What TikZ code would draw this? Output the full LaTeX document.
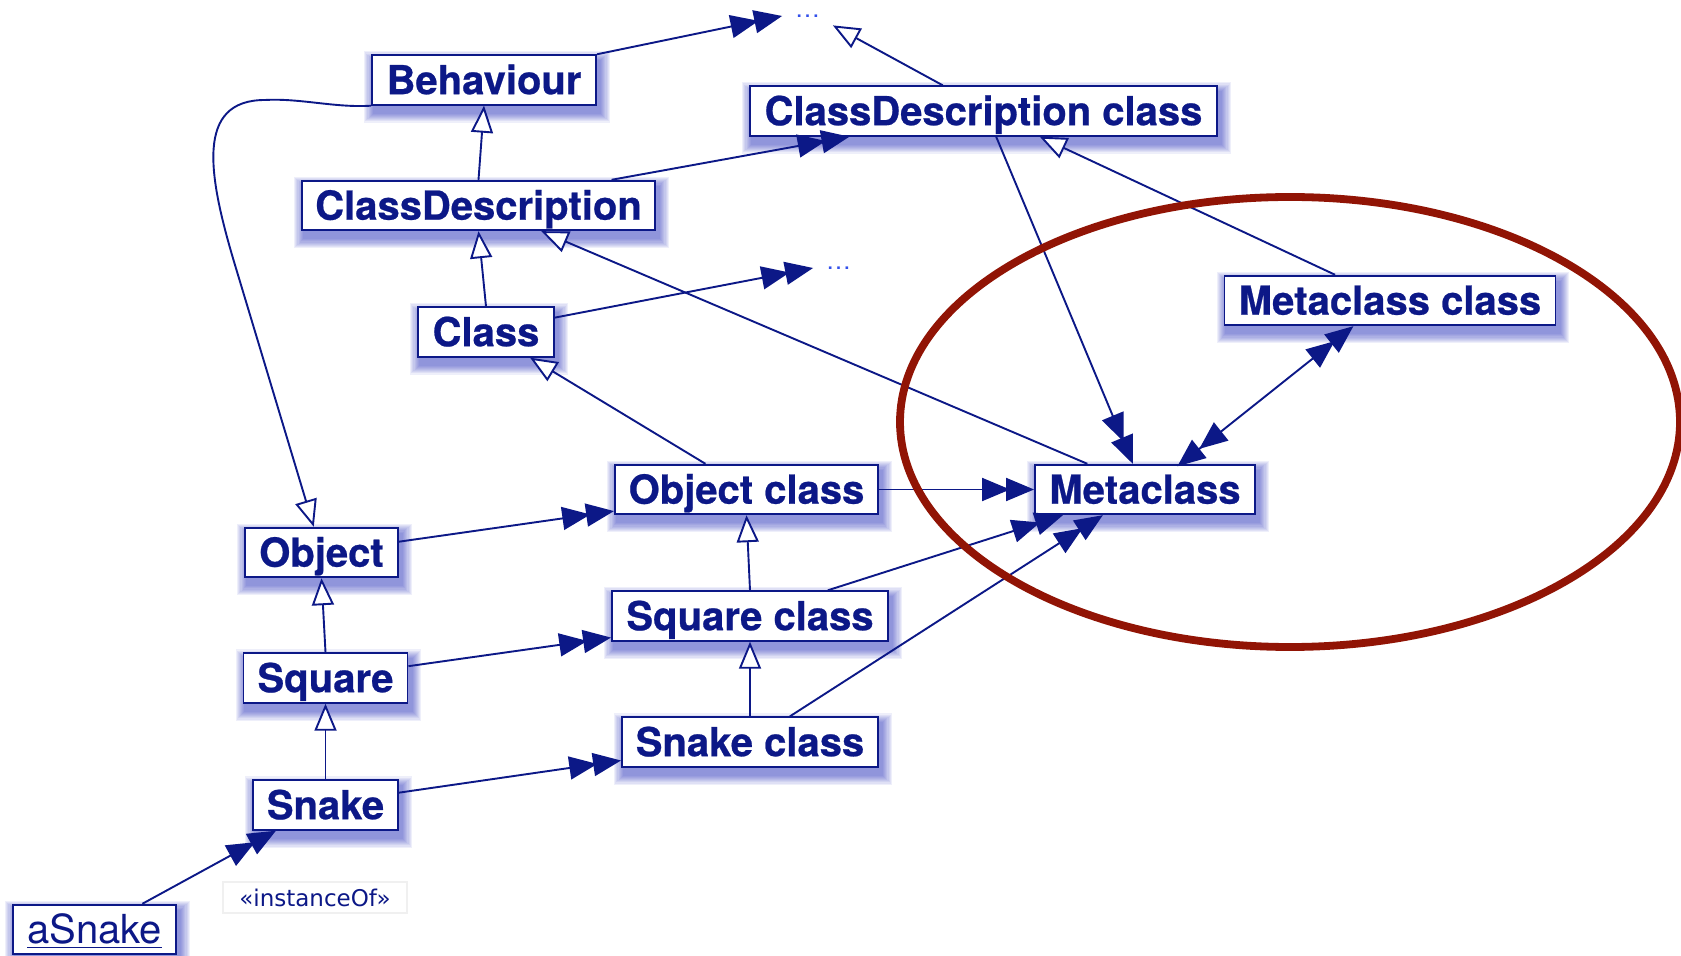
\documentclass[tikz,border=0pt]{standalone}
\usepackage{fontspec}
\setmainfont{TeX Gyre Heros}[BoldFeatures={FakeBold=0.6}]
\newfontfamily\stereofont{DejaVu Sans}
\usetikzlibrary{arrows.meta,calc,backgrounds}

\definecolor{navy}{RGB}{12,24,135}
\definecolor{dotblue}{RGB}{50,80,235}
\definecolor{glowblue}{RGB}{40,50,190}
\definecolor{ringred}{RGB}{145,20,5}

% soft blue glow under a box: stacked translucent rectangles
\newcommand\boxglow[1]{%
  \foreach \k in {1,...,9}{%
    \fill[glowblue, opacity=0.075]
      ([shift={({1.5pt-\k*0.55pt},{-3.5pt-\k*0.55pt})}]#1.south west)
      rectangle ([shift={({1.5pt+\k*0.55pt},{-3.5pt+\k*0.55pt})}]#1.north east);
  }}

\tikzset{
  classbox/.style={draw=navy, line width=0.95pt, fill=white, text=navy,
    font=\bfseries\fontsize{20}{24}\selectfont,
    minimum height=24.75pt, inner xsep=2pt, inner ysep=0pt,
    text height=17.2pt, text depth=3pt},
  objbox/.style={classbox, font=\fontsize{20}{24}\selectfont},
  ellipsis/.style={text=dotblue, font=\fontsize{12.5}{15}\selectfont,
    inner sep=0pt, minimum width=25pt, minimum height=6pt},
  stereo/.style={draw=gray!12, line width=0.6pt, text=navy,
    font=\stereofont\fontsize{11.5}{14}\selectfont,
    minimum width=92pt, minimum height=15.5pt, inner sep=0pt},
  link/.style={draw=navy, line width=0.95pt},
  instof/.style={link,
    -{Triangle[length=14pt,width=11.5pt,sep=-2pt]Triangle[length=14pt,width=11.5pt]}},
  mutual/.style={link,
    {Triangle[length=14pt,width=11.5pt,sep=-2pt]Triangle[length=14pt,width=11.5pt]}-{Triangle[length=14pt,width=11.5pt,sep=-2pt]Triangle[length=14pt,width=11.5pt]}},
  inherits/.style={link, -{Triangle[open,fill=white,length=13.5pt,width=11pt]}},
}

\begin{document}
\begin{tikzpicture}[x=0.5pt, y=-0.5pt]
\useasboundingbox (0,0) rectangle (1681,956);

% classes and metaclasses
\node[classbox, minimum width=112pt]   (behaviour) at (484,80)      {Behaviour};
\node[classbox, minimum width=233.5pt] (cdclass)   at (983.5,111)   {ClassDescription class};
\node[classbox, minimum width=176.5pt] (cd)        at (478.5,205.5) {ClassDescription};
\node[classbox, minimum width=68pt]    (class)     at (486,332)     {Class};
\node[classbox, minimum width=165.5pt] (metacls)   at (1390,300.5)  {Metaclass class};
\node[classbox, minimum width=131.5pt] (objcls)    at (746.5,489.5) {Object class};
\node[classbox, minimum width=110pt]   (meta)      at (1145,489.5)  {Metaclass};
\node[classbox, minimum width=76.5pt]  (object)    at (321.5,552.5) {Object};
\node[classbox, minimum width=138pt]   (sqcls)     at (750,616)     {Square class};
\node[classbox, minimum width=82pt]    (square)    at (325.5,678)   {Square};
\node[classbox, minimum width=128pt]   (snkcls)    at (750,742)     {Snake class};
\node[classbox, minimum width=72.5pt]  (snake)     at (325.5,805)   {Snake};
\node[objbox,   minimum width=81.5pt]  (asnake)    at (94.5,929.5)  {\underline{aSnake}};
\node[stereo] (instlabel) at (315,897.5) {«instanceOf»};
\node[ellipsis] (more1) at (807.5,16)  {\ldots};
\node[ellipsis] (more2) at (838.5,268) {\ldots};

\begin{scope}[on background layer]
  \fill[white] (0,0) rectangle (1681,956);
  \foreach \n in {behaviour,cdclass,cd,class,metacls,objcls,meta,object,sqcls,square,snkcls,snake,asnake}{\boxglow{\n}}
\end{scope}

% connectors
\draw[instof] (behaviour.north east) -- (more1.west);
\draw[inherits] ($(cdclass.north west)!0.413!(cdclass.north east)$) -- ([yshift=-1.5pt]more1.south east);
\draw[inherits] (behaviour.south west) .. controls (335,108) and (300,98) .. (265,100)
  .. controls (195,100) and (208,175) .. (235,265)
  -- ($(object.north west)!0.45!(object.north east)$);
\draw[inherits] (cd.north) -- (behaviour.south);
\draw[instof] ($(cd.north west)!0.875!(cd.north east)$) -- ($(cdclass.south west)!0.214!(cdclass.south east)$);
\draw[inherits] (class.north) -- (cd.south);
\draw[instof] ($(class.north east)!0.22!(class.south east)$) -- (more2.west);
\draw[inherits] ($(meta.north west)!0.24!(meta.north east)$) -- ($(cd.south west)!0.677!(cd.south east)$);
\draw[instof] ($(cdclass.south west)!0.527!(cdclass.south east)$) -- ($(meta.north west)!0.445!(meta.north east)$);
\draw[inherits] ($(metacls.north west)!0.335!(metacls.north east)$) -- ($(cdclass.south west)!0.62!(cdclass.south east)$);
\draw[mutual] ($(meta.north west)!0.66!(meta.north east)$) -- ($(metacls.south west)!0.39!(metacls.south east)$);
\draw[inherits] ($(objcls.north west)!0.345!(objcls.north east)$) -- ($(class.south west)!0.82!(class.south east)$);
\draw[instof] (objcls.east) -- (meta.west);
\draw[instof] ($(object.north east)!0.29!(object.south east)$) -- ($(objcls.north west)!0.92!(objcls.south west)$);
\draw[inherits] (sqcls.north) -- (objcls.south);
\draw[instof] ($(sqcls.north west)!0.78!(sqcls.north east)$) -- ($(meta.south west)!0.13!(meta.south east)$);
\draw[inherits] (square.north) -- (object.south);
\draw[instof] ($(square.north east)!0.27!(square.south east)$) -- ($(sqcls.north west)!0.92!(sqcls.south west)$);
\draw[inherits] (snkcls.north) -- (sqcls.south);
\draw[instof] ($(snkcls.north west)!0.655!(snkcls.north east)$) -- ($(meta.south west)!0.31!(meta.south east)$);
\draw[inherits] (snake.north) -- (square.south);
\draw[instof] ($(snake.north east)!0.26!(snake.south east)$) -- ($(snkcls.north west)!0.86!(snkcls.south west)$);
\draw[instof] ($(asnake.north west)!0.79!(asnake.north east)$) -- ($(snake.south west)!0.163!(snake.south east)$);

% highlight ring around the metaclass part
\draw[ringred, line width=3.9pt] (1290,422) ellipse [x radius=195pt, y radius=112.5pt];
\end{tikzpicture}
\end{document}
